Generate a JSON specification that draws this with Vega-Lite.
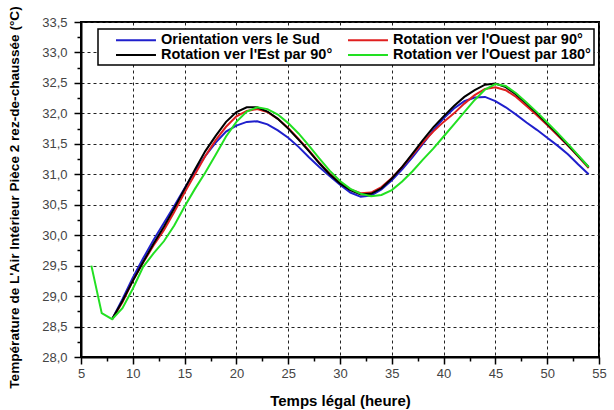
{
  "$schema": "https://vega.github.io/schema/vega-lite/v6.json",
  "autosize": {"type": "none"},
  "width": 518,
  "height": 335,
  "padding": {"left": 81, "top": 22, "right": 15, "bottom": 53},
  "background": "white",
  "config": {"view": {"stroke": "black", "strokeWidth": 2}, "font": "Liberation Sans", "legend": {"strokeWidth": 1.5}},
  "datasets": {
    "raw": [
      {"s": "Orientation vers le Sud", "t": 8, "T": 28.62}, {"s": "Orientation vers le Sud", "t": 9, "T": 28.95}, {"s": "Orientation vers le Sud", "t": 10, "T": 29.3}, {"s": "Orientation vers le Sud", "t": 11, "T": 29.62}, {"s": "Orientation vers le Sud", "t": 12, "T": 29.92}, {"s": "Orientation vers le Sud", "t": 13, "T": 30.2}, {"s": "Orientation vers le Sud", "t": 14, "T": 30.48}, {"s": "Orientation vers le Sud", "t": 15, "T": 30.77}, {"s": "Orientation vers le Sud", "t": 16, "T": 31.05}, {"s": "Orientation vers le Sud", "t": 17, "T": 31.3}, {"s": "Orientation vers le Sud", "t": 18, "T": 31.52}, {"s": "Orientation vers le Sud", "t": 19, "T": 31.7}, {"s": "Orientation vers le Sud", "t": 20, "T": 31.8}, {"s": "Orientation vers le Sud", "t": 21, "T": 31.86}, {"s": "Orientation vers le Sud", "t": 22, "T": 31.87}, {"s": "Orientation vers le Sud", "t": 23, "T": 31.82}, {"s": "Orientation vers le Sud", "t": 24, "T": 31.72}, {"s": "Orientation vers le Sud", "t": 25, "T": 31.6}, {"s": "Orientation vers le Sud", "t": 26, "T": 31.45}, {"s": "Orientation vers le Sud", "t": 27, "T": 31.28}, {"s": "Orientation vers le Sud", "t": 28, "T": 31.12}, {"s": "Orientation vers le Sud", "t": 29, "T": 30.97}, {"s": "Orientation vers le Sud", "t": 30, "T": 30.83}, {"s": "Orientation vers le Sud", "t": 31, "T": 30.7}, {"s": "Orientation vers le Sud", "t": 32, "T": 30.63}, {"s": "Orientation vers le Sud", "t": 33, "T": 30.65}, {"s": "Orientation vers le Sud", "t": 34, "T": 30.75}, {"s": "Orientation vers le Sud", "t": 35, "T": 30.9}, {"s": "Orientation vers le Sud", "t": 36, "T": 31.08}, {"s": "Orientation vers le Sud", "t": 37, "T": 31.28}, {"s": "Orientation vers le Sud", "t": 38, "T": 31.5}, {"s": "Orientation vers le Sud", "t": 39, "T": 31.72}, {"s": "Orientation vers le Sud", "t": 40, "T": 31.92}, {"s": "Orientation vers le Sud", "t": 41, "T": 32.08}, {"s": "Orientation vers le Sud", "t": 42, "T": 32.2}, {"s": "Orientation vers le Sud", "t": 43, "T": 32.26}, {"s": "Orientation vers le Sud", "t": 44, "T": 32.27}, {"s": "Orientation vers le Sud", "t": 45, "T": 32.2}, {"s": "Orientation vers le Sud", "t": 46, "T": 32.1}, {"s": "Orientation vers le Sud", "t": 47, "T": 31.98}, {"s": "Orientation vers le Sud", "t": 48, "T": 31.85}, {"s": "Orientation vers le Sud", "t": 49, "T": 31.73}, {"s": "Orientation vers le Sud", "t": 50, "T": 31.6}, {"s": "Orientation vers le Sud", "t": 51, "T": 31.47}, {"s": "Orientation vers le Sud", "t": 52, "T": 31.33}, {"s": "Orientation vers le Sud", "t": 53, "T": 31.16}, {"s": "Orientation vers le Sud", "t": 54, "T": 31.0},

      {"s": "Rotation ver l'Ouest par 90°", "t": 8, "T": 28.62}, {"s": "Rotation ver l'Ouest par 90°", "t": 9, "T": 28.9}, {"s": "Rotation ver l'Ouest par 90°", "t": 10, "T": 29.25}, {"s": "Rotation ver l'Ouest par 90°", "t": 11, "T": 29.55}, {"s": "Rotation ver l'Ouest par 90°", "t": 12, "T": 29.83}, {"s": "Rotation ver l'Ouest par 90°", "t": 13, "T": 30.08}, {"s": "Rotation ver l'Ouest par 90°", "t": 14, "T": 30.38}, {"s": "Rotation ver l'Ouest par 90°", "t": 15, "T": 30.7}, {"s": "Rotation ver l'Ouest par 90°", "t": 16, "T": 31.0}, {"s": "Rotation ver l'Ouest par 90°", "t": 17, "T": 31.3}, {"s": "Rotation ver l'Ouest par 90°", "t": 18, "T": 31.56}, {"s": "Rotation ver l'Ouest par 90°", "t": 19, "T": 31.78}, {"s": "Rotation ver l'Ouest par 90°", "t": 20, "T": 31.95}, {"s": "Rotation ver l'Ouest par 90°", "t": 21, "T": 32.04}, {"s": "Rotation ver l'Ouest par 90°", "t": 22, "T": 32.07}, {"s": "Rotation ver l'Ouest par 90°", "t": 23, "T": 32.02}, {"s": "Rotation ver l'Ouest par 90°", "t": 24, "T": 31.91}, {"s": "Rotation ver l'Ouest par 90°", "t": 25, "T": 31.76}, {"s": "Rotation ver l'Ouest par 90°", "t": 26, "T": 31.58}, {"s": "Rotation ver l'Ouest par 90°", "t": 27, "T": 31.39}, {"s": "Rotation ver l'Ouest par 90°", "t": 28, "T": 31.19}, {"s": "Rotation ver l'Ouest par 90°", "t": 29, "T": 31.01}, {"s": "Rotation ver l'Ouest par 90°", "t": 30, "T": 30.86}, {"s": "Rotation ver l'Ouest par 90°", "t": 31, "T": 30.75}, {"s": "Rotation ver l'Ouest par 90°", "t": 32, "T": 30.69}, {"s": "Rotation ver l'Ouest par 90°", "t": 33, "T": 30.7}, {"s": "Rotation ver l'Ouest par 90°", "t": 34, "T": 30.79}, {"s": "Rotation ver l'Ouest par 90°", "t": 35, "T": 30.94}, {"s": "Rotation ver l'Ouest par 90°", "t": 36, "T": 31.12}, {"s": "Rotation ver l'Ouest par 90°", "t": 37, "T": 31.32}, {"s": "Rotation ver l'Ouest par 90°", "t": 38, "T": 31.52}, {"s": "Rotation ver l'Ouest par 90°", "t": 39, "T": 31.7}, {"s": "Rotation ver l'Ouest par 90°", "t": 40, "T": 31.86}, {"s": "Rotation ver l'Ouest par 90°", "t": 41, "T": 32.0}, {"s": "Rotation ver l'Ouest par 90°", "t": 42, "T": 32.16}, {"s": "Rotation ver l'Ouest par 90°", "t": 43, "T": 32.3}, {"s": "Rotation ver l'Ouest par 90°", "t": 44, "T": 32.4}, {"s": "Rotation ver l'Ouest par 90°", "t": 45, "T": 32.43}, {"s": "Rotation ver l'Ouest par 90°", "t": 46, "T": 32.38}, {"s": "Rotation ver l'Ouest par 90°", "t": 47, "T": 32.27}, {"s": "Rotation ver l'Ouest par 90°", "t": 48, "T": 32.12}, {"s": "Rotation ver l'Ouest par 90°", "t": 49, "T": 31.97}, {"s": "Rotation ver l'Ouest par 90°", "t": 50, "T": 31.81}, {"s": "Rotation ver l'Ouest par 90°", "t": 51, "T": 31.64}, {"s": "Rotation ver l'Ouest par 90°", "t": 52, "T": 31.47}, {"s": "Rotation ver l'Ouest par 90°", "t": 53, "T": 31.29}, {"s": "Rotation ver l'Ouest par 90°", "t": 54, "T": 31.1},

      {"s": "Rotation ver l'Est par 90°", "t": 8, "T": 28.62}, {"s": "Rotation ver l'Est par 90°", "t": 9, "T": 28.92}, {"s": "Rotation ver l'Est par 90°", "t": 10, "T": 29.25}, {"s": "Rotation ver l'Est par 90°", "t": 11, "T": 29.56}, {"s": "Rotation ver l'Est par 90°", "t": 12, "T": 29.86}, {"s": "Rotation ver l'Est par 90°", "t": 13, "T": 30.14}, {"s": "Rotation ver l'Est par 90°", "t": 14, "T": 30.44}, {"s": "Rotation ver l'Est par 90°", "t": 15, "T": 30.76}, {"s": "Rotation ver l'Est par 90°", "t": 16, "T": 31.08}, {"s": "Rotation ver l'Est par 90°", "t": 17, "T": 31.38}, {"s": "Rotation ver l'Est par 90°", "t": 18, "T": 31.63}, {"s": "Rotation ver l'Est par 90°", "t": 19, "T": 31.86}, {"s": "Rotation ver l'Est par 90°", "t": 20, "T": 32.02}, {"s": "Rotation ver l'Est par 90°", "t": 21, "T": 32.1}, {"s": "Rotation ver l'Est par 90°", "t": 22, "T": 32.1}, {"s": "Rotation ver l'Est par 90°", "t": 23, "T": 32.03}, {"s": "Rotation ver l'Est par 90°", "t": 24, "T": 31.91}, {"s": "Rotation ver l'Est par 90°", "t": 25, "T": 31.75}, {"s": "Rotation ver l'Est par 90°", "t": 26, "T": 31.57}, {"s": "Rotation ver l'Est par 90°", "t": 27, "T": 31.38}, {"s": "Rotation ver l'Est par 90°", "t": 28, "T": 31.18}, {"s": "Rotation ver l'Est par 90°", "t": 29, "T": 31.0}, {"s": "Rotation ver l'Est par 90°", "t": 30, "T": 30.85}, {"s": "Rotation ver l'Est par 90°", "t": 31, "T": 30.74}, {"s": "Rotation ver l'Est par 90°", "t": 32, "T": 30.67}, {"s": "Rotation ver l'Est par 90°", "t": 33, "T": 30.68}, {"s": "Rotation ver l'Est par 90°", "t": 34, "T": 30.77}, {"s": "Rotation ver l'Est par 90°", "t": 35, "T": 30.93}, {"s": "Rotation ver l'Est par 90°", "t": 36, "T": 31.12}, {"s": "Rotation ver l'Est par 90°", "t": 37, "T": 31.34}, {"s": "Rotation ver l'Est par 90°", "t": 38, "T": 31.56}, {"s": "Rotation ver l'Est par 90°", "t": 39, "T": 31.77}, {"s": "Rotation ver l'Est par 90°", "t": 40, "T": 31.95}, {"s": "Rotation ver l'Est par 90°", "t": 41, "T": 32.12}, {"s": "Rotation ver l'Est par 90°", "t": 42, "T": 32.27}, {"s": "Rotation ver l'Est par 90°", "t": 43, "T": 32.38}, {"s": "Rotation ver l'Est par 90°", "t": 44, "T": 32.47}, {"s": "Rotation ver l'Est par 90°", "t": 45, "T": 32.49}, {"s": "Rotation ver l'Est par 90°", "t": 46, "T": 32.43}, {"s": "Rotation ver l'Est par 90°", "t": 47, "T": 32.31}, {"s": "Rotation ver l'Est par 90°", "t": 48, "T": 32.16}, {"s": "Rotation ver l'Est par 90°", "t": 49, "T": 32.0}, {"s": "Rotation ver l'Est par 90°", "t": 50, "T": 31.83}, {"s": "Rotation ver l'Est par 90°", "t": 51, "T": 31.66}, {"s": "Rotation ver l'Est par 90°", "t": 52, "T": 31.48}, {"s": "Rotation ver l'Est par 90°", "t": 53, "T": 31.3}, {"s": "Rotation ver l'Est par 90°", "t": 54, "T": 31.12},

      {"s": "Rotation ver l'Ouest par 180°", "t": 6, "T": 29.5}, {"s": "Rotation ver l'Ouest par 180°", "t": 7, "T": 28.72}, {"s": "Rotation ver l'Ouest par 180°", "t": 8, "T": 28.62}, {"s": "Rotation ver l'Ouest par 180°", "t": 9, "T": 28.8}, {"s": "Rotation ver l'Ouest par 180°", "t": 10, "T": 29.12}, {"s": "Rotation ver l'Ouest par 180°", "t": 11, "T": 29.48}, {"s": "Rotation ver l'Ouest par 180°", "t": 12, "T": 29.7}, {"s": "Rotation ver l'Ouest par 180°", "t": 13, "T": 29.9}, {"s": "Rotation ver l'Ouest par 180°", "t": 14, "T": 30.16}, {"s": "Rotation ver l'Ouest par 180°", "t": 15, "T": 30.47}, {"s": "Rotation ver l'Ouest par 180°", "t": 16, "T": 30.76}, {"s": "Rotation ver l'Ouest par 180°", "t": 17, "T": 31.03}, {"s": "Rotation ver l'Ouest par 180°", "t": 18, "T": 31.32}, {"s": "Rotation ver l'Ouest par 180°", "t": 19, "T": 31.62}, {"s": "Rotation ver l'Ouest par 180°", "t": 20, "T": 31.86}, {"s": "Rotation ver l'Ouest par 180°", "t": 21, "T": 32.03}, {"s": "Rotation ver l'Ouest par 180°", "t": 22, "T": 32.1}, {"s": "Rotation ver l'Ouest par 180°", "t": 23, "T": 32.07}, {"s": "Rotation ver l'Ouest par 180°", "t": 24, "T": 31.98}, {"s": "Rotation ver l'Ouest par 180°", "t": 25, "T": 31.84}, {"s": "Rotation ver l'Ouest par 180°", "t": 26, "T": 31.67}, {"s": "Rotation ver l'Ouest par 180°", "t": 27, "T": 31.47}, {"s": "Rotation ver l'Ouest par 180°", "t": 28, "T": 31.26}, {"s": "Rotation ver l'Ouest par 180°", "t": 29, "T": 31.06}, {"s": "Rotation ver l'Ouest par 180°", "t": 30, "T": 30.89}, {"s": "Rotation ver l'Ouest par 180°", "t": 31, "T": 30.76}, {"s": "Rotation ver l'Ouest par 180°", "t": 32, "T": 30.68}, {"s": "Rotation ver l'Ouest par 180°", "t": 33, "T": 30.64}, {"s": "Rotation ver l'Ouest par 180°", "t": 34, "T": 30.66}, {"s": "Rotation ver l'Ouest par 180°", "t": 35, "T": 30.74}, {"s": "Rotation ver l'Ouest par 180°", "t": 36, "T": 30.88}, {"s": "Rotation ver l'Ouest par 180°", "t": 37, "T": 31.05}, {"s": "Rotation ver l'Ouest par 180°", "t": 38, "T": 31.24}, {"s": "Rotation ver l'Ouest par 180°", "t": 39, "T": 31.42}, {"s": "Rotation ver l'Ouest par 180°", "t": 40, "T": 31.62}, {"s": "Rotation ver l'Ouest par 180°", "t": 41, "T": 31.82}, {"s": "Rotation ver l'Ouest par 180°", "t": 42, "T": 32.02}, {"s": "Rotation ver l'Ouest par 180°", "t": 43, "T": 32.22}, {"s": "Rotation ver l'Ouest par 180°", "t": 44, "T": 32.39}, {"s": "Rotation ver l'Ouest par 180°", "t": 45, "T": 32.48}, {"s": "Rotation ver l'Ouest par 180°", "t": 46, "T": 32.45}, {"s": "Rotation ver l'Ouest par 180°", "t": 47, "T": 32.33}, {"s": "Rotation ver l'Ouest par 180°", "t": 48, "T": 32.18}, {"s": "Rotation ver l'Ouest par 180°", "t": 49, "T": 32.02}, {"s": "Rotation ver l'Ouest par 180°", "t": 50, "T": 31.85}, {"s": "Rotation ver l'Ouest par 180°", "t": 51, "T": 31.68}, {"s": "Rotation ver l'Ouest par 180°", "t": 52, "T": 31.5}, {"s": "Rotation ver l'Ouest par 180°", "t": 53, "T": 31.31}, {"s": "Rotation ver l'Ouest par 180°", "t": 54, "T": 31.12}
    ]
  },
  "data": {"name": "raw"},
  "mark": {"type": "line", "strokeWidth": 2},
  "encoding": {
    "x": {
      "field": "t",
      "type": "quantitative",
      "scale": {"domain": [5, 55], "nice": false, "zero": false},
      "axis": {
        "title": "Temps légal  (heure)",
        "titleFont": "Liberation Sans",
        "titleFontSize": 15,
        "titleFontWeight": "bold",
        "titleColor": "black",
        "titlePadding": 13,
        "values": [5, 7.5, 10, 12.5, 15, 17.5, 20, 22.5, 25, 27.5, 30, 32.5, 35, 37.5, 40, 42.5, 45, 47.5, 50, 52.5, 55],
        "format": "d",
        "labelExpr": "datum.value % 5 === 0 ? datum.label : ''",
        "labelFont": "Liberation Sans",
        "labelFontSize": 13,
        "labelColor": "#444444",
        "labelPadding": 3,
        "labelFlush": false,
        "labelOverlap": false,
        "domainColor": "black",
        "domainWidth": 2,
        "tickColor": "black",
        "tickWidth": 1.5,
        "tickSize": {"condition": {"test": "datum.value % 5 !== 0", "value": 4}, "value": 7},
        "grid": true,
        "gridColor": "#222222",
        "gridDash": [3, 3],
        "gridWidth": 1,
        "gridOpacity": {"condition": {"test": "datum.value % 5 !== 0", "value": 0}, "value": 1}
      }
    },
    "y": {
      "field": "T",
      "type": "quantitative",
      "scale": {"domain": [28, 33.5], "nice": false, "zero": false},
      "axis": {
        "title": "Température de L'Air Intérieur Pièce 2 rez-de-chaussée  (°C)",
        "titleFont": "Liberation Sans",
        "titleFontSize": 13.6,
        "titleFontWeight": "bold",
        "titleColor": "black",
        "titlePadding": 20,
        "titleY": 175,
        "values": [28, 28.25, 28.5, 28.75, 29, 29.25, 29.5, 29.75, 30, 30.25, 30.5, 30.75, 31, 31.25, 31.5, 31.75, 32, 32.25, 32.5, 32.75, 33, 33.25, 33.5],
        "labelExpr": "datum.value % 0.5 === 0 ? replace(format(datum.value, '.1f'), '.', ',') : ''",
        "labelFont": "Liberation Sans",
        "labelFontSize": 13,
        "labelColor": "#444444",
        "labelPadding": 7,
        "labelFlush": false,
        "labelOverlap": false,
        "domainColor": "black",
        "domainWidth": 2,
        "tickColor": "black",
        "tickWidth": 1.5,
        "tickSize": {"condition": {"test": "datum.value % 0.5 !== 0", "value": 4}, "value": 7},
        "grid": true,
        "gridColor": "#222222",
        "gridDash": [3, 3],
        "gridWidth": 1,
        "gridOpacity": {"condition": {"test": "datum.value % 0.5 !== 0", "value": 0}, "value": 1}
      }
    },
    "color": {
      "field": "s",
      "type": "nominal",
      "scale": {
        "domain": ["Orientation vers le Sud", "Rotation ver l'Est par 90°", "Rotation ver l'Ouest par 90°", "Rotation ver l'Ouest par 180°"],
        "range": ["#1f1fcc", "#000000", "#e01f1f", "#22e022"]
      },
      "legend": {
        "title": null,
        "orient": "none",
        "legendX": 17,
        "legendY": 7,
        "columns": 2,
        "columnPadding": 0,
        "rowPadding": -1,
        "padding": 3,
        "symbolType": "M-1,0H4.71",
        "symbolSize": 196,
        "symbolStrokeWidth": 2,
        "symbolOffset": 14,
        "labelFont": "Liberation Sans",
        "labelFontSize": 14.5,
        "labelFontWeight": "bold",
        "labelColor": "black",
        "labelOffset": 30,
        "labelLimit": 300,
        "fillColor": "white",
        "strokeColor": "black"
      }
    },
    "order": {"field": "t", "type": "quantitative"}
  }
}
